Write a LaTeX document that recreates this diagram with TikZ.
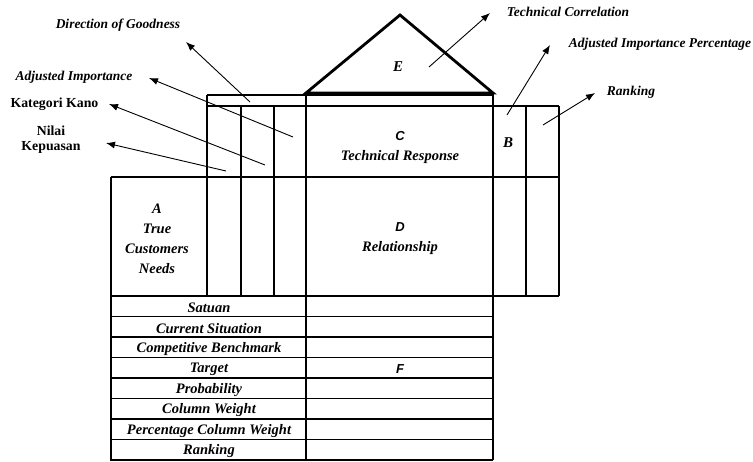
\documentclass[tikz,border=0pt]{standalone}
\usepackage{fontspec}
\setmainfont{Liberation Serif}
\newfontfamily\arialfont{Liberation Sans}
\usetikzlibrary{arrows.meta}
\tikzset{
  frame/.style={line width=1.8pt},
  roof/.style={line width=2.8pt, line join=miter},
  pointer/.style={-{Latex[length=9pt,width=7pt]}, line width=0.9pt},
  lbl/.style={font=\fontsize{13.5}{20}\selectfont\bfseries\itshape, inner sep=0pt, align=center},
  cell/.style={font=\fontsize{14.5}{20}\selectfont\bfseries\itshape, inner sep=0pt, align=center},
  plain/.style={font=\fontsize{13.8}{15}\selectfont\bfseries, inner sep=0pt, align=center},
  letter/.style={font=\fontsize{13}{20}\selectfont\arialfont\bfseries\itshape, inner sep=0pt},
  big/.style={font=\fontsize{15}{17}\selectfont\bfseries\itshape, inner sep=0pt}
}
\begin{document}
\begin{tikzpicture}[x=1pt, y=-1pt]
  \useasboundingbox (0,0) rectangle (753,461);
  \fill[white] (0,0) rectangle (753,461);
  % house frame
  \draw[frame] (207,95) -- (493,95);
  \draw[frame] (207,106) -- (559,106);
  \draw[frame] (111,177) -- (559,177);
  \draw[frame] (111,296) -- (559,296);
  \draw[frame] (207,95) -- (207,296);
  \foreach \x in {241,274,526,559}
    \draw[frame] (\x,106) -- (\x,296);
  \draw[frame] (111,177) -- (111,460) -- (493,460);
  \draw[frame] (306,95) -- (306,460);
  \draw[frame] (493,93) -- (493,460);
  \foreach \i in {1,...,7}
    \draw[frame] (111,296+\i*20.5) -- (493,296+\i*20.5);
  \draw[roof] (306,93) -- (400,15) -- (493,93) -- cycle;
  % texts
  \node[big] (e) at (398,67) {E};
  \node[big] (b) at (508,143) {B};
  \node[cell] (c) at (400,148) {{\fontsize{13}{20}\selectfont\arialfont C}\\Technical Response};
  \node[cell] (d) at (400,239) {{\fontsize{13}{20}\selectfont\arialfont D}\\Relationship};
  \node[cell] (a) at (157,239) {A\\True\\Customers\\Needs};
  \node[letter] (f) at (400,369) {F};
  \foreach \txt [count=\i] in {Satuan, Current Situation, Competitive Benchmark, Target, Probability, Column Weight, Percentage Column Weight, Ranking}
    \node[cell] (row\i) at (209,296+\i*20.5-8.75) {\txt};
  % labels
  \node[lbl] (goodness) at (118,25) {Direction of Goodness};
  \node[lbl] (adjimp) at (74,77) {Adjusted Importance};
  \node[plain] (kano) at (54.5,104) {Kategori Kano};
  \node[plain] (nilai) at (51,140) {Nilai\\Kepuasan};
  \node[lbl] (techcorr) at (568,12) {Technical Correlation};
  \node[lbl] (adjpct) at (660,44) {Adjusted Importance Percentage};
  \node[lbl] (rankright) at (631,92) {Ranking};
  % arrows
  \coordinate (goodnessFrom) at (250,102);
  \coordinate (goodnessTo) at (186,42);
  \coordinate (adjimpFrom) at (293,137);
  \coordinate (adjimpTo) at (149,78);
  \coordinate (kanoFrom) at (265,165);
  \coordinate (kanoTo) at (109,104);
  \coordinate (nilaiFrom) at (226,171);
  \coordinate (nilaiTo) at (106,143);
  \coordinate (techcorrFrom) at (429,67);
  \coordinate (techcorrTo) at (490,13);
  \coordinate (adjpctFrom) at (507,115);
  \coordinate (adjpctTo) at (550,45);
  \coordinate (rankFrom) at (543,125);
  \coordinate (rankTo) at (595,93);
  \foreach \n in {goodness,adjimp,kano,nilai,techcorr,adjpct,rank}
    \draw[pointer] (\n From) -- (\n To);
\end{tikzpicture}
\end{document}
